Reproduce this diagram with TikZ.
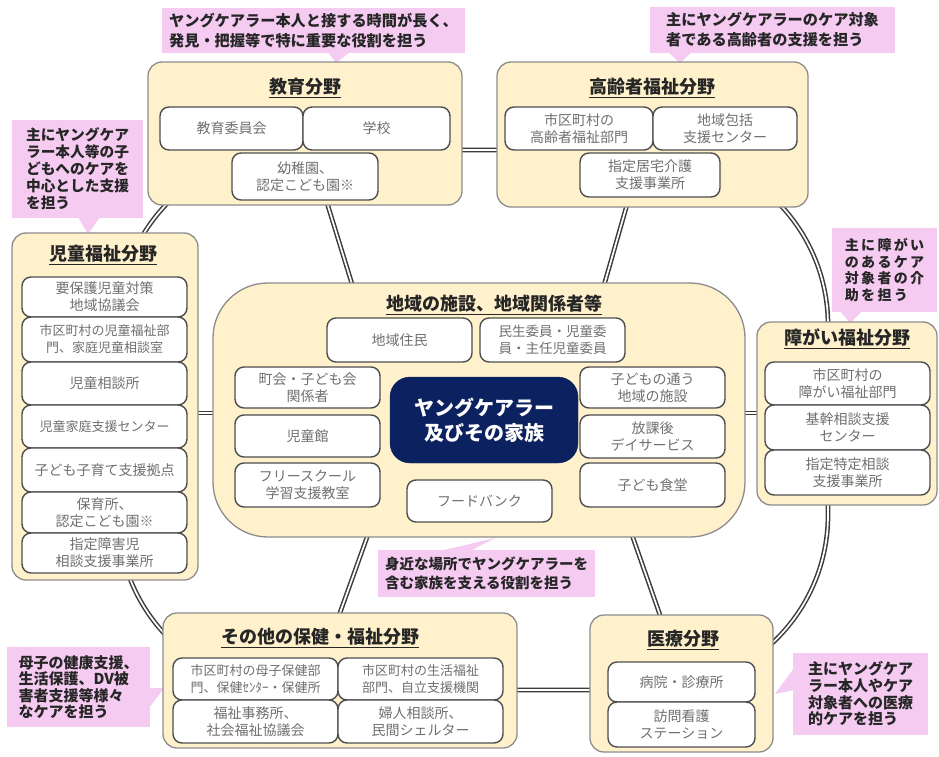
\documentclass[tikz,border=0pt]{standalone}
\usepackage{fontspec}
\setmainfont{Noto Sans CJK JP}
\usetikzlibrary{calc}
\definecolor{boxtan}{HTML}{FFF1CC}
\definecolor{boxedge}{HTML}{8C8C8C}
\definecolor{inedge}{HTML}{4D4D4D}
\definecolor{intext}{HTML}{707070}
\definecolor{callpink}{HTML}{F5CBF1}
\definecolor{ycnavy}{HTML}{0C215F}
\definecolor{ringcol}{HTML}{3C3C3C}
\definecolor{titletext}{HTML}{262626}
\newcommand\bnode[7]{\node[#1, minimum width={(#5)-(#3)}, minimum height={(#6)-(#4)}] (#2) at ({((#3)+(#5))/2},{((#4)+(#6))/2}) {#7};}
\tikzset{
  outerbox/.style={draw=boxedge, line width=1.3pt, fill=boxtan, rounded corners=14pt, inner sep=0pt, outer sep=0pt},
  innerbox/.style={draw=inedge, line width=1.4pt, fill=white, rounded corners=9pt, inner sep=0pt, outer sep=0pt, align=center, text=intext, font=\fontsize{14}{17}\selectfont},
  smalltxt/.style={font=\fontsize{13}{17}\selectfont},
  darkbox/.style={fill=ycnavy, draw=ycnavy, rounded corners=20pt, inner sep=0pt, outer sep=0pt, align=center, text=white, font=\bfseries\fontsize{20}{25}\selectfont},
  titletxt/.style={font=\bfseries\fontsize{18}{22}\selectfont, text=titletext, inner sep=0pt},
  callout/.style={fill=callpink, inner sep=0pt, align=left, text=black!85, font=\bfseries\fontsize{14.7}{17}\selectfont},
  tail/.style={fill=callpink},
  ringline/.style={draw=ringcol, double=white, double distance=1.7pt, line width=1.5pt},
}
\begin{document}
\begin{tikzpicture}[x=1pt,y=-1pt]
\useasboundingbox (0,0) rectangle (939,757);
\fill[white] (0,0) rectangle (939,757);

% ring and spokes
\draw[ringline, rounded corners=175pt] (118,150) rectangle (828,690);
\coordinate (e1) at (320,180); \coordinate (e2) at (360,310);
\coordinate (k1) at (634,180); \coordinate (k2) at (597,310);
\coordinate (l1) at (185,413); \coordinate (l2) at (225,413);
\coordinate (r1) at (735,413); \coordinate (r2) at (770,413);
\coordinate (b1) at (375,515); \coordinate (b2) at (332,635);
\coordinate (m1) at (625,515); \coordinate (m2) at (667,635);
\draw[ringline] (e1) -- (e2);
\draw[ringline] (k1) -- (k2);
\draw[ringline] (l1) -- (l2);
\draw[ringline] (r1) -- (r2);
\draw[ringline] (b1) -- (b2);
\draw[ringline] (m1) -- (m2);

% callout tails
\fill[tail] (328,52) -- (350,52) -- (336,63) -- cycle;
\fill[tail] (668,52) -- (692,52) -- (680,63) -- cycle;
\fill[tail] (78,217) -- (100,217) -- (88,234) -- cycle;
\fill[tail] (840,311) -- (862,311) -- (850,323) -- cycle;
\fill[tail] (440,551) -- (470,551) -- (495,538) -- cycle;
\fill[tail] (149,688) -- (149,708) -- (164,688) -- cycle;
\fill[tail] (794,668) -- (794,690) -- (775,694) -- cycle;

% callouts
\bnode{callout, font=\bfseries\fontsize{15.2}{20}\selectfont}{c1}{162}{8}{465}{53}{ヤングケアラー本人と接する時間が長く、\\発見・把握等で特に重要な役割を担う}
\bnode{callout, font=\bfseries\fontsize{15.2}{20}\selectfont}{c2}{650}{7}{895}{53}{主にヤングケアラーのケア対象\\者である高齢者の支援を担う}
\bnode{callout}{c3}{12}{120}{143}{218}{主にヤングケア\\ラー本人等の子\\どもへのケアを\\中心とした支援\\を担う}
\bnode{callout, font=\bfseries\fontsize{14}{16.7}\selectfont}{c4}{832}{228}{937}{312}{主\,に\,障\,が\,い\\の\,あ\,る\,ケ\,ア\\対\,象\,者\,の\,介\\助\,を\,担\,う}
\bnode{callout, font=\bfseries\fontsize{14.5}{19}\selectfont}{c5}{378}{550}{595}{597}{身近な場所でヤングケアラーを\\含む家族を支える役割を担う}
\bnode{callout, font=\bfseries\fontsize{15}{16.5}\selectfont}{c6}{7}{647}{150}{727}{母子の健康支援、\\生活保護、DV被\\害者支援等様々\\なケアを担う}
\bnode{callout, font=\bfseries\fontsize{15}{16.7}\selectfont}{c7}{793}{653}{928}{735}{主にヤングケア\\ラー本人やケア\\対象者への医療\\的ケアを担う}

% education
\bnode{outerbox}{edu}{148}{62}{462}{205}{}
\node[titletxt] (edut) at (305,88) {\underline{教育分野}};
\bnode{innerbox}{edu1}{160}{107}{303}{150}{教育委員会}
\bnode{innerbox}{edu2}{303}{107}{450}{150}{学校}
\bnode{innerbox}{edu3}{232}{153}{378}{200}{幼稚園、\\認定こども園※}

% elderly
\bnode{outerbox}{eld}{497}{62}{808}{207}{}
\node[titletxt] (eldt) at (652,88) {\underline{高齢者福祉分野}};
\bnode{innerbox}{eld1}{505}{107}{653}{150}{市区町村の\\高齢者福祉部門}
\bnode{innerbox}{eld2}{653}{107}{797}{150}{地域包括\\支援センター}
\bnode{innerbox}{eld3}{580}{153}{720}{197}{指定居宅介護\\支援事業所}

% child welfare
\bnode{outerbox}{chi}{12}{233}{198}{580}{}
\node[titletxt] (chit) at (103,255) {\underline{児童福祉分野}};
\bnode{innerbox}{chi1}{22}{277}{187}{317}{要保護児童対策\\地域協議会}
\bnode{innerbox, smalltxt}{chi2}{22}{317}{187}{362}{市区町村の児童福祉部\\門、家庭児童相談室}
\bnode{innerbox}{chi3}{22}{362}{187}{405}{児童相談所}
\bnode{innerbox, smalltxt}{chi4}{22}{405}{187}{448}{児童家庭支援センター}
\bnode{innerbox}{chi5}{22}{448}{187}{492}{子ども子育て支援拠点}
\bnode{innerbox}{chi6}{22}{492}{187}{533}{保育所、\\認定こども園※}
\bnode{innerbox}{chi7}{22}{533}{187}{573}{指定障害児\\相談支援事業所}

% disability
\bnode{outerbox}{dis}{757}{322}{937}{505}{}
\node[titletxt] (dist) at (847,339) {\underline{障がい福祉分野}};
\bnode{innerbox}{dis1}{765}{362}{930}{405}{市区町村の\\障がい福祉部門}
\bnode{innerbox}{dis2}{765}{405}{930}{450}{基幹相談支援\\センター}
\bnode{innerbox}{dis3}{765}{450}{930}{495}{指定特定相談\\支援事業所}

% community
\bnode{outerbox, rounded corners=55pt}{cen}{213}{283}{745}{537}{}
\node[titletxt] (cent) at (494,305) {\underline{地域の施設、地域関係者等}};
\bnode{innerbox}{cen1}{327}{318}{472}{362}{地域住民}
\bnode{innerbox, font=\fontsize{13.5}{17}\selectfont}{cen2}{480}{318}{625}{362}{民生委員・児童委\\員・主任児童委員}
\bnode{innerbox}{cen3}{235}{367}{380}{408}{町会・子ども会\\関係者}
\bnode{innerbox}{cen4}{235}{415}{380}{457}{児童館}
\bnode{innerbox}{cen5}{235}{463}{380}{507}{フリースクール\\学習支援教室}
\bnode{darkbox}{yc}{390}{377}{578}{463}{ヤングケアラー\\及びその家族}
\bnode{innerbox}{cen6}{407}{480}{552}{522}{フードバンク}
\bnode{innerbox}{cen7}{580}{367}{725}{408}{子どもの通う\\地域の施設}
\bnode{innerbox}{cen8}{580}{415}{725}{458}{放課後\\デイサービス}
\bnode{innerbox}{cen9}{580}{463}{725}{507}{子ども食堂}

% other health & welfare
\bnode{outerbox}{oth}{163}{613}{517}{748}{}
\node[titletxt] (otht) at (320,638) {\underline{その他の保健・福祉分野}};
\bnode{innerbox, smalltxt}{oth1}{173}{658}{338}{700}{市区町村の母子保健部\\門、保健ｾﾝﾀｰ・保健所}
\bnode{innerbox, smalltxt}{oth2}{338}{658}{503}{700}{市区町村の生活福祉\\部門、自立支援機関}
\bnode{innerbox}{oth3}{173}{700}{338}{743}{福祉事務所、\\社会福祉協議会}
\bnode{innerbox}{oth4}{338}{700}{503}{743}{婦人相談所、\\民間シェルター}

% medical
\bnode{outerbox}{med}{590}{615}{773}{752}{}
\node[titletxt] (medt) at (683,640) {\underline{医療分野}};
\bnode{innerbox}{med1}{608}{662}{755}{702}{病院・診療所}
\bnode{innerbox}{med2}{608}{702}{755}{747}{訪問看護\\ステーション}
\end{tikzpicture}
\end{document}
